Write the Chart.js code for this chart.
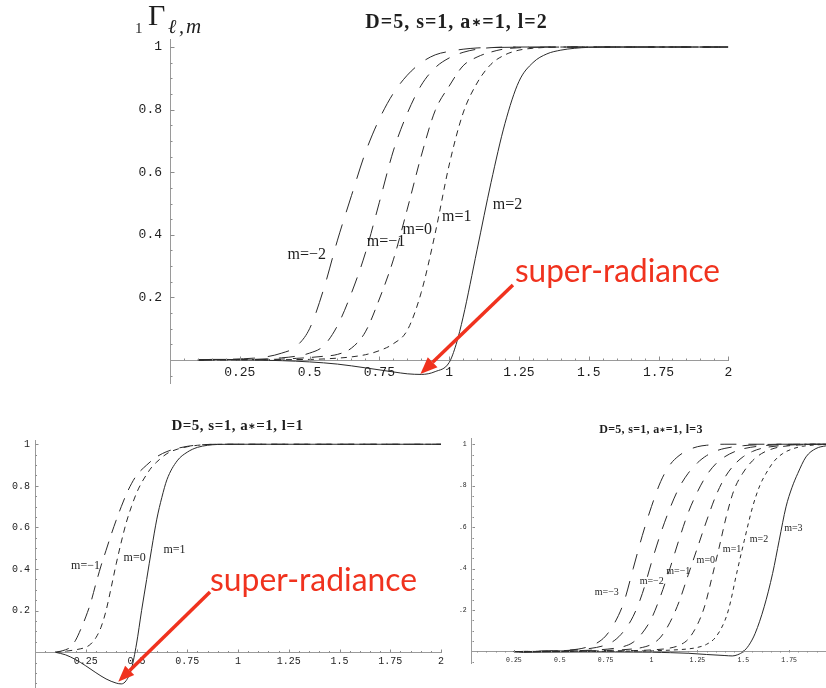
<!DOCTYPE html>
<html>
<head>
<meta charset="utf-8">
<title>Transmission factors, D=5, s=1, a*=1</title>
<script src="https://cdn.jsdelivr.net/npm/chart.js@4.4.1/dist/chart.umd.min.js"></script>
<style>
  html, body { margin: 0; padding: 0; background: #fff; }
  body { width: 826px; height: 688px; overflow: hidden; position: relative; }
  canvas { position: absolute; display: block; }
</style>
</head>
<body>
<canvas id="panelL2" width="826" height="400" style="left:0;top:0"></canvas>
<canvas id="panelL1" width="460" height="300" style="left:0;top:400px"></canvas>
<canvas id="panelL3" width="390" height="288" style="left:460px;top:400px"></canvas>
<script>
// ---------------- data: transmission factor vs. frequency ----------------
// l = 2 panel (m = -2 ... 2)
const L2_MN2_X = [0.1,0.2,0.3,0.35,0.4,0.45,0.5,0.55,0.6,0.65,0.7,0.75,0.8,0.85,0.9,0.95,1.0,1.05,1.1,1.2,1.4,2.0];
const L2_MN2_Y = [0,0.002,0.006,0.011,0.022,0.042,0.10,0.225,0.383,0.525,0.663,0.77,0.852,0.91,0.95,0.975,0.986,0.993,0.997,0.999,1,1];
const L2_MN1_X = [0.1,0.2,0.3,0.4,0.45,0.5,0.55,0.6,0.65,0.7,0.75,0.8,0.85,0.9,0.95,1.0,1.05,1.1,1.15,1.25,1.5,2.0];
const L2_MN1_Y = [0,0.001,0.002,0.007,0.012,0.022,0.045,0.11,0.214,0.342,0.504,0.668,0.788,0.878,0.934,0.965,0.983,0.993,0.998,1,1,1];
const L2_M0_X  = [0.1,0.3,0.4,0.5,0.55,0.6,0.65,0.7,0.75,0.8,0.85,0.9,0.95,1.0,1.05,1.1,1.15,1.2,1.3,1.5,2.0];
const L2_M0_Y  = [0,0.001,0.003,0.008,0.012,0.018,0.038,0.09,0.195,0.32,0.482,0.652,0.797,0.875,0.94,0.968,0.984,0.994,0.999,1,1];
const L2_M1_X  = [0.1,0.3,0.5,0.6,0.65,0.7,0.75,0.8,0.85,0.9,0.95,1.0,1.05,1.1,1.15,1.2,1.25,1.3,1.4,1.6,2.0];
const L2_M1_Y  = [0,0.001,0.002,0.006,0.01,0.017,0.03,0.052,0.095,0.216,0.405,0.623,0.789,0.885,0.945,0.975,0.99,0.996,1,1,1];
const L2_M2_X  = [0.1,0.15,0.2,0.25,0.3,0.4,0.5,0.6,0.7,0.8,0.85,0.9,0.95,1.0,1.025,1.05,1.1,1.15,1.2,1.25,1.3,1.35,1.4,1.45,1.5,1.6,2.0];
const L2_M2_Y  = [0,0.002,0.002,0.001,0,-0.002,-0.006,-0.013,-0.025,-0.038,-0.044,-0.046,-0.037,-0.008,0.05,0.137,0.352,0.567,0.756,0.89,0.95,0.978,0.99,0.996,0.999,1,1];

// l = 1 panel (m = -1 ... 1)
const L1_MN1_X = [0.1,0.125,0.15,0.175,0.2,0.225,0.25,0.275,0.3,0.325,0.35,0.375,0.4,0.425,0.45,0.475,0.5,0.55,0.6,0.65,0.7,0.75,0.8,0.9,1.0,2.0];
const L1_MN1_Y = [0,0.005,0.012,0.025,0.058,0.11,0.17,0.24,0.33,0.415,0.49,0.565,0.635,0.7,0.76,0.81,0.85,0.9,0.94,0.965,0.98,0.99,0.996,1,1,1];
const L1_M0_X  = [0.1,0.15,0.2,0.225,0.25,0.275,0.3,0.325,0.35,0.375,0.4,0.425,0.45,0.475,0.5,0.525,0.55,0.575,0.6,0.65,0.7,0.75,0.8,0.9,1.0,2.0];
const L1_M0_Y  = [0,0.005,0.012,0.017,0.024,0.04,0.07,0.12,0.2,0.31,0.425,0.53,0.625,0.7,0.765,0.815,0.855,0.89,0.915,0.955,0.976,0.988,0.995,1,1,1];
const L1_M1_X  = [0.1,0.15,0.2,0.25,0.3,0.35,0.4,0.425,0.45,0.475,0.5,0.525,0.55,0.575,0.6,0.625,0.65,0.7,0.75,0.8,0.85,0.9,1.0,2.0];
const L1_M1_Y  = [0,-0.012,-0.035,-0.065,-0.098,-0.128,-0.148,-0.152,-0.135,-0.08,0.04,0.2,0.35,0.5,0.64,0.745,0.83,0.92,0.962,0.985,0.995,0.999,1,1];

// l = 3 panel (m = -3 ... 3)
const L3_MN3_X = [0.25,0.4,0.5,0.6,0.65,0.7,0.75,0.8,0.85,0.9,0.95,1.0,1.05,1.1,1.15,1.2,1.25,1.3,1.4,2.0];
const L3_MN3_Y = [0,0.002,0.005,0.012,0.022,0.04,0.075,0.14,0.24,0.4,0.56,0.7,0.82,0.9,0.945,0.972,0.988,0.995,1,1];
const L3_MN2_X = [0.25,0.5,0.6,0.7,0.75,0.8,0.85,0.9,0.95,1.0,1.05,1.1,1.15,1.2,1.25,1.3,1.35,1.4,1.5,1.6,1.7,2.0];
const L3_MN2_Y = [0,0.004,0.009,0.02,0.032,0.055,0.1,0.17,0.28,0.43,0.57,0.69,0.79,0.86,0.91,0.945,0.967,0.98,0.993,0.998,1,1];
const L3_MN1_X = [0.25,0.5,0.7,0.8,0.85,0.9,0.95,1.0,1.05,1.1,1.15,1.2,1.25,1.3,1.35,1.4,1.45,1.5,1.6,1.7,1.8,2.0];
const L3_MN1_Y = [0,0.003,0.008,0.016,0.025,0.045,0.09,0.16,0.27,0.4,0.54,0.67,0.77,0.85,0.905,0.94,0.963,0.978,0.992,0.998,1,1];
const L3_M0_X  = [0.25,0.6,0.8,0.9,0.95,1.0,1.05,1.1,1.15,1.2,1.25,1.3,1.35,1.4,1.45,1.5,1.55,1.6,1.7,1.8,1.9,2.0];
const L3_M0_Y  = [0,0.003,0.007,0.013,0.02,0.035,0.07,0.14,0.24,0.37,0.5,0.63,0.75,0.84,0.9,0.94,0.965,0.98,0.993,0.998,1,1];
const L3_M1_X  = [0.25,0.6,0.9,1.0,1.1,1.15,1.2,1.25,1.29,1.33,1.368,1.41,1.45,1.497,1.55,1.6,1.65,1.7,1.8,1.9,2.0];
const L3_M1_Y  = [0,0.002,0.005,0.008,0.017,0.03,0.06,0.13,0.22,0.36,0.5,0.66,0.78,0.86,0.92,0.955,0.975,0.987,0.996,1,1];
const L3_M2_X  = [0.25,0.5,0.8,1.0,1.1,1.2,1.25,1.3,1.35,1.4,1.424,1.464,1.506,1.551,1.59,1.624,1.67,1.715,1.77,1.824,1.9,2.0];
const L3_M2_Y  = [0,0.001,0.002,0.004,0.007,0.013,0.02,0.035,0.07,0.15,0.216,0.377,0.537,0.698,0.8,0.859,0.92,0.955,0.978,0.99,0.997,1];
const L3_M3_X  = [0.25,0.3,0.4,0.6,0.8,1.0,1.1,1.2,1.3,1.4,1.44,1.47,1.5,1.53,1.565,1.614,1.66,1.696,1.733,1.765,1.797,1.842,1.896,1.95,2.0];
const L3_M3_Y  = [0,-0.004,-0.003,-0.002,-0.002,-0.003,-0.005,-0.008,-0.014,-0.019,-0.021,-0.015,0,0.03,0.088,0.216,0.377,0.537,0.698,0.79,0.859,0.939,0.979,0.992,0.997];

// axis ticks shared by the three panels
const X_TICK_VALUES = [0.25,0.5,0.75,1,1.25,1.5,1.75,2];
const X_TICK_LABELS = ['0.25','0.5','0.75','1','1.25','1.5','1.75','2'];
const Y_TICK_VALUES = [0.2,0.4,0.6,0.8,1];
const Y_TICK_LABELS = ['0.2','0.4','0.6','0.8','1'];

// curve tags and where they sit (in data units)
const L2_TAGS = ['m=−2','m=−1','m=0','m=1','m=2'];
const L2_TAG_X = [0.49,0.774,0.886,1.027,1.209];
const L2_TAG_Y = [0.335,0.378,0.415,0.457,0.495];
const L1_TAGS = ['m=−1','m=0','m=1'];
const L1_TAG_X = [0.249,0.491,0.687];
const L1_TAG_Y = [0.415,0.453,0.492];
const L3_TAGS = ['m=−3','m=−2','m=−1','m=0','m=1','m=2','m=3'];
const L3_TAG_X = [0.756,1.001,1.146,1.296,1.439,1.586,1.773];
const L3_TAG_Y = [0.287,0.340,0.389,0.442,0.495,0.543,0.596];

// ---------------- styling ----------------
const LINE_COLOR = '#2a2a2a';
const AXIS_COLOR = '#9a9a9a';
const TICK_COLOR = '#8c8c8c';
const TEXT_COLOR = '#1e1e1e';
const NOTE_COLOR = '#f0321e';
const SERIF = '"Liberation Serif", "Times New Roman", serif';
const MONO = '"Liberation Mono", "Courier New", monospace';

function curve(xs, ys, dash) {
  return {
    data: xs.map((v, i) => ({ x: v, y: ys[i] })),
    borderColor: LINE_COLOR,
    borderWidth: 1,
    borderDash: dash,
    pointRadius: 0,
    fill: false,
    cubicInterpolationMode: 'monotone'
  };
}

// heading "D=5, s=1, a∗=1, l=…" with a small centred star
function headingParts(l, size) {
  const f = 'bold ' + size + 'px ' + SERIF;
  return [
    { text: 'D=5, s=1, a', font: f },
    { text: '∗', font: 'bold ' + Math.round(size * 0.6) + 'px "DejaVu Sans"', dy: -size * 0.08 },
    { text: '=1, l=' + l, font: f }
  ];
}

function drawHeading(ctx, parts, cx, cy, spacing) {
  ctx.letterSpacing = spacing;
  ctx.textAlign = 'left';
  ctx.textBaseline = 'alphabetic';
  const widths = parts.map(p => { ctx.font = p.font; return ctx.measureText(p.text).width; });
  let x = cx - widths.reduce((a, b) => a + b, 0) / 2;
  parts.forEach((p, i) => {
    ctx.font = p.font;
    ctx.fillText(p.text, x, cy + (p.dy || 0));
    x += widths[i];
  });
  ctx.letterSpacing = '0px';
}

function drawArrow(ctx, x1, y1, x2, y2, lw, hl, hw) {
  const a = Math.atan2(y2 - y1, x2 - x1);
  const bx = x2 - hl * Math.cos(a), by = y2 - hl * Math.sin(a);
  ctx.lineWidth = lw;
  ctx.lineCap = 'butt';
  ctx.beginPath(); ctx.moveTo(x1, y1); ctx.lineTo(bx, by); ctx.stroke();
  ctx.beginPath();
  ctx.moveTo(x2, y2);
  ctx.lineTo(bx + hw / 2 * Math.sin(a), by - hw / 2 * Math.cos(a));
  ctx.lineTo(bx - hw / 2 * Math.sin(a), by + hw / 2 * Math.cos(a));
  ctx.closePath(); ctx.fill();
}

// inward axis ticks, curve tags, panel heading and the red note
const panelDecor = {
  id: 'panelDecor',
  afterDraw(chart, args, o) {
    const { ctx, chartArea, scales: { x, y } } = chart;
    ctx.save();
    ctx.strokeStyle = TICK_COLOR;
    ctx.lineWidth = 1;
    const axisY = Math.round(y.getPixelForValue(0)) + 0.5;
    for (let k = Math.ceil(x.min / 0.05 - 1e-9); k * 0.05 <= x.max + 1e-9; k++) {
      if (k === 0) continue;
      const px = Math.round(x.getPixelForValue(k * 0.05)) + 0.5;
      const len = k % 5 === 0 ? o.major : o.minor;
      ctx.beginPath(); ctx.moveTo(px, axisY); ctx.lineTo(px, axisY - len); ctx.stroke();
    }
    const axisX = Math.round(chartArea.left) + 0.5;
    for (let k = Math.ceil(y.min / 0.05 - 1e-9); k * 0.05 <= y.max + 1e-9; k++) {
      if (k === 0) continue;
      const py = Math.round(y.getPixelForValue(k * 0.05)) + 0.5;
      const len = k % 4 === 0 ? o.major : o.minor;
      ctx.beginPath(); ctx.moveTo(axisX, py); ctx.lineTo(axisX + len, py); ctx.stroke();
    }

    ctx.fillStyle = TEXT_COLOR;
    ctx.font = o.tagFont;
    ctx.textAlign = 'center';
    ctx.textBaseline = 'middle';
    o.tags.forEach((t, i) => {
      ctx.fillText(t, x.getPixelForValue(o.tagX[i]), y.getPixelForValue(o.tagY[i]));
    });

    drawHeading(ctx, headingParts(o.l, o.titleSize), o.titleAt[0], o.titleAt[1], o.titleSpacing);

    if (o.yTitle) {
      ctx.textAlign = 'left';
      ctx.textBaseline = 'alphabetic';
      ctx.font = '15px ' + SERIF;
      ctx.fillText('1', 135, 33);
      ctx.font = '30px ' + SERIF;
      ctx.fillText('Γ', 148, 25);
      ctx.font = 'italic 20px ' + SERIF;
      ctx.fillText('ℓ', 168, 33);
      ctx.fillText(',', 179, 33);
      ctx.font = 'italic 21px ' + SERIF;
      ctx.fillText('m', 186, 33);
    }

    if (o.note) {
      const n = o.note;
      ctx.fillStyle = NOTE_COLOR;
      ctx.strokeStyle = NOTE_COLOR;
      drawArrow(ctx,
        x.getPixelForValue(n.tail[0]), y.getPixelForValue(n.tail[1]),
        x.getPixelForValue(n.tip[0]), y.getPixelForValue(n.tip[1]),
        n.lw, n.hl, n.hw);
      ctx.font = n.font;
      ctx.textAlign = 'left';
      ctx.textBaseline = 'alphabetic';
      ctx.fillText(n.text, x.getPixelForValue(n.at[0]), y.getPixelForValue(n.at[1]), n.width);
    }
    ctx.restore();
  }
};

function makePanel(id, p) {
  return new Chart(document.getElementById(id), {
    type: 'line',
    data: { datasets: p.datasets },
    options: {
      responsive: false,
      animation: false,
      devicePixelRatio: 1,
      events: [],
      layout: { padding: p.padding },
      plugins: {
        legend: { display: false },
        tooltip: { enabled: false },
        title: { display: false },
        panelDecor: p.decor
      },
      scales: {
        x: {
          type: 'linear',
          position: { y: 0 },
          min: p.xMin, max: p.xMax,
          afterBuildTicks: s => { s.ticks = X_TICK_VALUES.map(v => ({ value: v })); },
          ticks: {
            callback: v => X_TICK_LABELS[X_TICK_VALUES.indexOf(v)],
            font: { family: MONO, size: p.tickSize },
            color: TEXT_COLOR, padding: p.xPad, maxRotation: 0, autoSkip: false
          },
          grid: { display: true, drawOnChartArea: false, drawTicks: false },
          border: { display: true, color: AXIS_COLOR, width: 1 }
        },
        y: {
          type: 'linear',
          position: 'left',
          min: p.yMin, max: p.yMax,
          afterBuildTicks: s => { s.ticks = Y_TICK_VALUES.map(v => ({ value: v })); },
          afterFit: s => { s.width = p.yWidth; },
          ticks: {
            callback: v => Y_TICK_LABELS[Y_TICK_VALUES.indexOf(v)],
            font: { family: MONO, size: p.tickSize },
            color: TEXT_COLOR, padding: p.yPad, autoSkip: false
          },
          grid: { display: true, drawOnChartArea: false, drawTicks: false },
          border: { display: true, color: AXIS_COLOR, width: 1 }
        }
      }
    },
    plugins: [panelDecor]
  });
}

// l = 2, large panel
makePanel('panelL2', {
  datasets: [
    curve(L2_MN2_X, L2_MN2_Y, [22, 13]),
    curve(L2_MN1_X, L2_MN1_Y, [16, 11]),
    curve(L2_M0_X, L2_M0_Y, [11, 8]),
    curve(L2_M1_X, L2_M1_Y, [6, 5]),
    curve(L2_M2_X, L2_M2_Y, [])
  ],
  xMin: 0, xMax: 2, yMin: -0.075, yMax: 1.025,
  padding: { left: 120, right: 97.7, top: 39.2, bottom: 16.5 },
  yWidth: 50, tickSize: 13, xPad: 5, yPad: 8,
  decor: {
    major: 4, minor: 2,
    tags: L2_TAGS, tagX: L2_TAG_X, tagY: L2_TAG_Y, tagFont: '16px ' + SERIF,
    l: 2, titleSize: 20, titleSpacing: '1px', titleAt: [456.5, 28],
    yTitle: true,
    note: { text: 'super-radiance', font: '33px Lato', width: 205, at: [1.2357, 0.249],
            tail: [1.2285, 0.2396], tip: [0.897, -0.045], lw: 3.5, hl: 17, hw: 14 }
  }
});

// l = 1, lower left panel
makePanel('panelL1', {
  datasets: [
    curve(L1_MN1_X, L1_MN1_Y, [14, 9]),
    curve(L1_M0_X, L1_M0_Y, [6, 5]),
    curve(L1_M1_X, L1_M1_Y, [])
  ],
  xMin: 0, xMax: 2, yMin: -0.175, yMax: 1.02,
  padding: { left: 5, right: 19, top: 40.1, bottom: 11.3 },
  yWidth: 30, tickSize: 10, xPad: 3.4, yPad: 5,
  decor: {
    major: 3, minor: 1.5,
    tags: L1_TAGS, tagX: L1_TAG_X, tagY: L1_TAG_Y, tagFont: '12px ' + SERIF,
    l: 1, titleSize: 15, titleSpacing: '0.5px', titleAt: [237.5, 30],
    note: { text: 'super-radiance', font: '32px Lato', width: 207, at: [0.862, 0.295],
            tail: [0.862, 0.29], tip: [0.41, -0.141], lw: 3.5, hl: 16, hw: 13 }
  }
});

// l = 3, lower right panel
makePanel('panelL3', {
  datasets: [
    curve(L3_MN3_X, L3_MN3_Y, [16, 12]),
    curve(L3_MN2_X, L3_MN2_Y, [14, 11]),
    curve(L3_MN1_X, L3_MN1_Y, [12, 10]),
    curve(L3_M0_X, L3_M0_Y, [10, 8]),
    curve(L3_M1_X, L3_M1_Y, [7, 6]),
    curve(L3_M2_X, L3_M2_Y, [4, 4]),
    curve(L3_M3_X, L3_M3_Y, [])
  ],
  xMin: 0.02, xMax: 2, yMin: -0.055, yMax: 1.03,
  padding: { left: 0, right: 15, top: 38, bottom: 25 },
  yWidth: 11.7, tickSize: 6.5, xPad: 4.6, yPad: 5,
  decor: {
    major: 2.5, minor: 1.5,
    tags: L3_TAGS, tagX: L3_TAG_X, tagY: L3_TAG_Y, tagFont: '10px ' + SERIF,
    l: 3, titleSize: 12, titleSpacing: '0.3px', titleAt: [191, 33]
  }
});
</script>
</body>
</html>
